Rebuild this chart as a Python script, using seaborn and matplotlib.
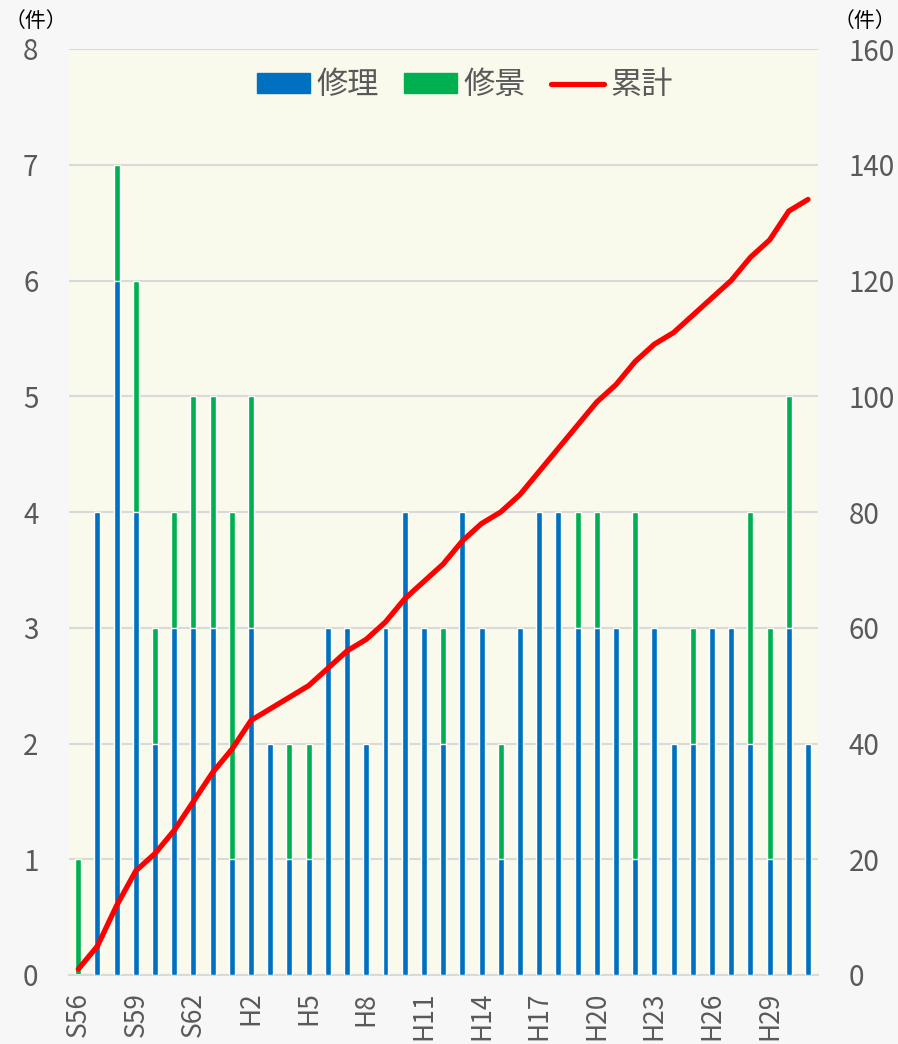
import numpy as np
import pandas as pd
import matplotlib
matplotlib.use("Agg")
import matplotlib.pyplot as plt
import matplotlib.patches as patches
from matplotlib.lines import Line2D
import seaborn as sns

# 年度 S56 (1981) .. H31 (2019)
years = (["S%d" % y for y in range(56, 64)] + ["H%d" % y for y in range(1, 32)])
repair = [0, 4, 6, 4, 2, 3, 3, 3, 1, 3, 2, 1, 1, 3, 3, 2, 3, 4, 3, 2,
          4, 3, 1, 3, 4, 4, 3, 3, 3, 1, 3, 2, 2, 3, 3, 2, 1, 3, 2]
landscape = [1, 0, 1, 2, 1, 1, 2, 2, 3, 2, 0, 1, 1, 0, 0, 0, 0, 0, 0, 1,
             0, 0, 1, 0, 0, 0, 1, 1, 0, 3, 0, 0, 1, 0, 0, 2, 2, 2, 0]
tick_every = 3

sns.set_theme(style="white")
plt.rcParams['font.family'] = ['Noto Sans CJK JP', 'DejaVu Sans']

df = pd.DataFrame({"year": years, "repair": repair, "landscape": landscape})
df["total"] = df["repair"] + df["landscape"]
df["cum"] = df["total"].cumsum()
df["pos"] = np.arange(len(df))

blue = "#0070C0"
green = "#00B050"
red = "#FF0000"
txt = "#595959"
grid = "#D9D9D9"

fig = plt.figure(figsize=(8.98, 10.44), dpi=100, facecolor="#F7F7F7")
ax = fig.add_axes([69 / 898, 69 / 1044, 749 / 898, 926 / 1044])
ax.set_facecolor("#F9F9EC")

sns.barplot(data=df, x="year", y="total", color=green, width=0.31,
            saturation=1, ax=ax, zorder=2)
sns.barplot(data=df, x="year", y="repair", color=blue, width=0.31,
            saturation=1, ax=ax, zorder=3)

ax.set_ylim(0, 8)
ax.set_xlim(-0.48, len(df) - 0.48)
ax.set_yticks(range(0, 9))
ax.yaxis.grid(True, color=grid, linewidth=1.5, zorder=0)
ax.set_axisbelow(True)
for s in ["top", "left", "right"]:
    ax.spines[s].set_visible(False)
ax.spines["bottom"].set_color(grid)
ax.spines["bottom"].set_linewidth(1.5)
ax.set_xticks(df["pos"][::tick_every])
ax.set_xticklabels(df["year"][::tick_every], rotation=90, va="top")
ax.tick_params(axis="x", length=0, pad=12, labelsize=19, labelcolor=txt)
ax.tick_params(axis="y", length=0, pad=22, labelsize=20, labelcolor=txt)
ax.set_xlabel("")
ax.set_ylabel("")

ax2 = ax.twinx()
sns.lineplot(data=df, x="pos", y="cum", color=red, linewidth=3.8, ax=ax2,
             solid_capstyle="round", zorder=4)
ax2.set_ylim(0, 160)
ax2.set_yticks(range(0, 161, 20))
ax2.set_ylabel("")
ax2.tick_params(axis="y", length=0, pad=22, labelsize=20, labelcolor=txt)
for s in ["top", "left", "right", "bottom"]:
    ax2.spines[s].set_visible(False)
ax2.set_xlim(ax.get_xlim())

fig.text(36 / 898, 1 - 21 / 1044, "（件）", fontsize=15, color="black",
         va="center", ha="center")
fig.text(865 / 898, 1 - 21 / 1044, "（件）", fontsize=15, color="black",
         va="center", ha="center")

handles = [patches.Patch(color=blue, label="修理"),
           patches.Patch(color=green, label="修景"),
           Line2D([0], [0], color=red, linewidth=3.8, label="累計",
                  solid_capstyle="round")]
leg = ax.legend(handles=handles, loc="center",
                bbox_to_anchor=((465 - 69) / 749, 1 - 36 / 926),
                ncol=3, frameon=False, fontsize=22.5, handlelength=1.7,
                handleheight=0.58, handletextpad=0.2, columnspacing=0.8,
                borderpad=0)
for t in leg.get_texts():
    t.set_color(txt)

fig.savefig("out.png", dpi=100, facecolor=fig.get_facecolor())
